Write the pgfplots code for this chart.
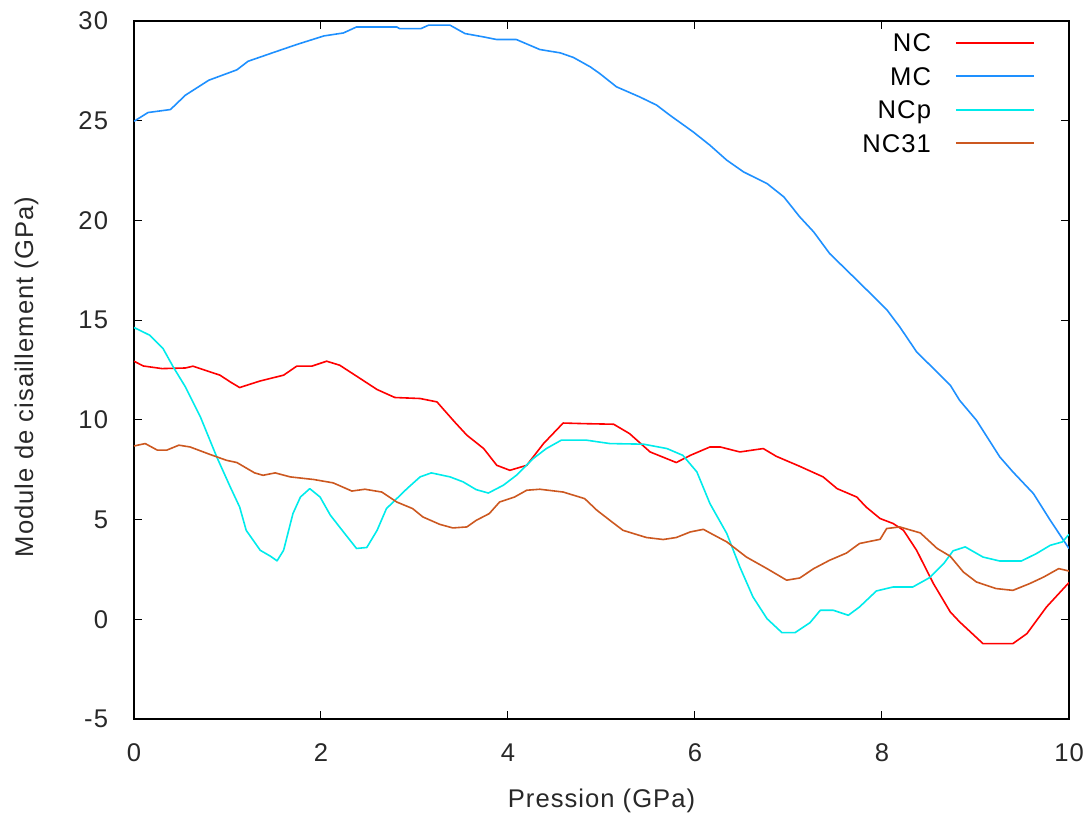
\documentclass[border=0pt]{standalone}
\usepackage{fontspec}
\setmainfont{Liberation Sans}[LetterSpace=4]
\usepackage{pgfplots}
\usepackage{pgfplotstable}
\pgfplotsset{compat=1.18}

\definecolor{serieNC}{RGB}{255,0,0}
\definecolor{serieMC}{RGB}{30,144,255}
\definecolor{serieNCp}{RGB}{0,235,235}
\definecolor{serieNCtt}{RGB}{204,88,32}
\definecolor{txt}{RGB}{40,40,40}

% Shear modulus (GPa) versus pressure (GPa)
\pgfplotstableread{
p G
0.00 12.94
0.10 12.70
0.30 12.57
0.55 12.60
0.63 12.69
0.92 12.24
1.03 11.90
1.13 11.62
1.35 11.95
1.60 12.24
1.74 12.69
1.90 12.69
2.06 12.94
2.20 12.74
2.42 12.07
2.60 11.52
2.79 11.12
3.06 11.07
3.24 10.90
3.43 9.89
3.56 9.23
3.74 8.56
3.88 7.72
4.02 7.47
4.20 7.72
4.38 8.81
4.59 9.84
4.81 9.81
5.13 9.78
5.30 9.31
5.52 8.39
5.80 7.86
5.95 8.22
6.16 8.64
6.27 8.64
6.48 8.39
6.73 8.56
6.87 8.17
7.12 7.67
7.37 7.14
7.52 6.55
7.73 6.13
7.83 5.63
7.98 5.05
8.12 4.80
8.23 4.46
8.37 3.46
8.55 1.79
8.73 0.37
8.83 -0.13
9.08 -1.22
9.40 -1.22
9.55 -0.72
9.76 0.62
10.00 1.84
}\tabNC

\pgfplotstableread{
p G
0.00 24.97
0.15 25.41
0.39 25.56
0.55 26.28
0.80 27.03
1.10 27.55
1.22 27.98
1.46 28.37
1.74 28.82
2.03 29.25
2.24 29.40
2.38 29.70
2.81 29.70
2.84 29.62
3.07 29.62
3.15 29.79
3.38 29.79
3.54 29.37
3.74 29.20
3.88 29.07
4.09 29.07
4.34 28.57
4.56 28.40
4.70 28.17
4.88 27.70
4.98 27.37
5.16 26.70
5.41 26.19
5.59 25.78
5.73 25.28
5.98 24.44
6.16 23.77
6.34 23.02
6.52 22.43
6.77 21.85
6.95 21.18
7.12 20.18
7.27 19.42
7.44 18.34
7.75 16.92
8.05 15.53
8.19 14.66
8.37 13.41
8.73 11.74
8.83 10.98
9.01 9.98
9.26 8.14
9.40 7.39
9.62 6.30
9.80 4.96
10.00 3.55
}\tabMC

\pgfplotstableread{
p G
0.00 14.63
0.17 14.24
0.31 13.58
0.42 12.65
0.55 11.65
0.71 10.15
0.885 8.14
1.03 6.63
1.13 5.63
1.20 4.46
1.35 3.46
1.46 3.16
1.53 2.93
1.60 3.46
1.70 5.30
1.78 6.13
1.88 6.55
1.99 6.13
2.10 5.22
2.24 4.38
2.38 3.55
2.49 3.60
2.60 4.46
2.70 5.55
2.92 6.55
3.06 7.14
3.18 7.34
3.38 7.14
3.52 6.89
3.66 6.50
3.79 6.33
3.95 6.72
4.09 7.22
4.27 8.06
4.41 8.56
4.57 8.98
4.84 8.98
5.09 8.81
5.45 8.78
5.70 8.56
5.87 8.22
6.02 7.39
6.16 5.80
6.34 4.30
6.48 2.62
6.62 1.12
6.77 0.03
6.93 -0.67
7.07 -0.67
7.23 -0.17
7.34 0.45
7.48 0.45
7.64 0.20
7.76 0.62
7.94 1.42
8.12 1.62
8.33 1.62
8.51 2.09
8.66 2.79
8.76 3.43
8.89 3.63
9.08 3.12
9.26 2.92
9.49 2.92
9.65 3.29
9.80 3.71
9.93 3.88
10.00 4.26
}\tabNCp

\pgfplotstableread{
p G
0.00 8.69
0.12 8.81
0.25 8.48
0.35 8.48
0.48 8.73
0.60 8.64
0.81 8.27
0.99 7.97
1.10 7.86
1.29 7.34
1.38 7.22
1.51 7.34
1.67 7.14
1.92 7.01
2.13 6.84
2.33 6.43
2.47 6.52
2.65 6.38
2.81 5.88
2.98 5.55
3.09 5.13
3.27 4.76
3.41 4.58
3.56 4.63
3.66 4.96
3.80 5.30
3.91 5.88
4.07 6.13
4.20 6.47
4.34 6.52
4.59 6.38
4.82 6.05
4.95 5.47
5.09 4.96
5.23 4.46
5.48 4.10
5.66 4.00
5.80 4.10
5.95 4.38
6.09 4.51
6.16 4.33
6.34 3.88
6.55 3.12
6.77 2.54
6.98 1.96
7.12 2.07
7.27 2.54
7.44 2.96
7.62 3.32
7.76 3.80
7.98 4.01
8.05 4.55
8.19 4.63
8.41 4.33
8.59 3.55
8.73 3.16
8.87 2.37
9.01 1.87
9.22 1.54
9.40 1.45
9.58 1.79
9.73 2.12
9.89 2.54
10.00 2.42
}\tabNCtt

\begin{document}
\begin{tikzpicture}
\useasboundingbox (-67pt,-49pt) rectangle (477.5pt,359.5pt);
\begin{axis}[
  scale only axis,
  width=467.5pt, height=349pt,
  xmin=0, xmax=10, ymin=-5, ymax=30,
  xtick={0,2,4,6,8,10},
  xticklabels={0,2,4,6,8,10},
  ytick={-5,0,5,10,15,20,25,30},
  yticklabels={-5,0,5,10,15,20,25,30},
  tick align=inside,
  major tick length=4pt,
  tick style={black, line width=0.5pt},
  axis line style={black, line width=0.75pt},
  every tick label/.append style={font=\fontsize{12.8pt}{15pt}\selectfont, text=txt, inner sep=0pt},
  xticklabel style={anchor=base, yshift=-21.3pt},
  yticklabel style={anchor=east, xshift=-12.8pt},
  xlabel={Pression (GPa)},
  ylabel={Module de cisaillement (GPa)},
  label style={font=\fontsize{12.8pt}{15pt}\selectfont, text=txt, inner sep=0pt},
  xlabel style={at={(axis description cs:0.5,0)}, anchor=base, yshift=-44.5pt},
  ylabel style={at={(axis description cs:-0.108,0.49)}, anchor=base},
  legend plot pos=right,
  legend cell align=right,
  legend image code/.code={\draw[line width=1pt,#1] (0pt,0pt) -- (39pt,0pt);},
  legend style={draw=none, fill=none, at={(1,1)}, anchor=north east,
    xshift=-17pt, yshift=-6.3pt, inner sep=0pt, outer sep=0pt,
    row sep=7.5pt, column sep=12pt,
    font=\fontsize{12.8pt}{15pt}\selectfont,
    nodes={inner sep=0pt, text height=9.2pt, text depth=0pt}},
  every axis plot/.append style={line width=0.8pt, line join=round},
]
\addplot[color=serieNC] table[x=p, y=G] {\tabNC};
\addlegendentry{NC}
\addplot[color=serieMC] table[x=p, y=G] {\tabMC};
\addlegendentry{MC}
\addplot[color=serieNCp] table[x=p, y=G] {\tabNCp};
\addlegendentry{NCp}
\addplot[color=serieNCtt] table[x=p, y=G] {\tabNCtt};
\addlegendentry{NC31}
\end{axis}
\end{tikzpicture}
\end{document}
